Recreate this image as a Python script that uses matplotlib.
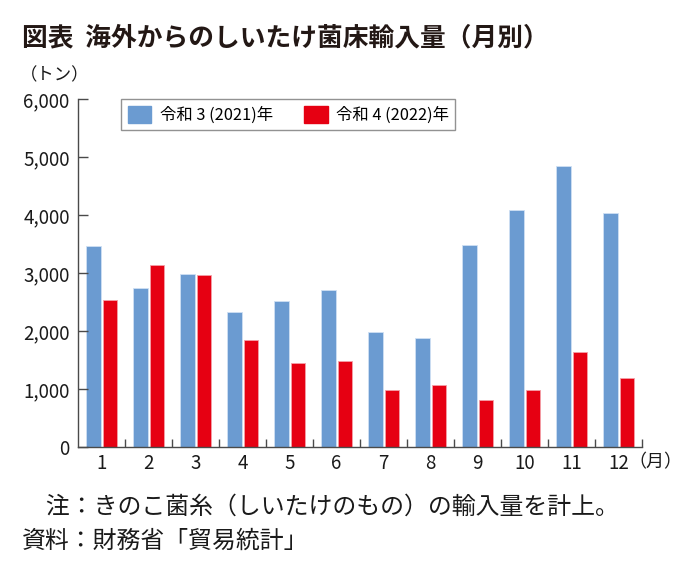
import matplotlib
matplotlib.use("Agg")
import matplotlib.pyplot as plt
from matplotlib.patches import Patch
import numpy as np

plt.rcParams['font.family'] = ['Noto Sans CJK JP', 'DejaVu Sans']

months = ["1", "2", "3", "4", "5", "6", "7", "8", "9", "10", "11", "12"]
r3_2021 = [3470, 2750, 2980, 2320, 2510, 2715, 1990, 1885, 3485, 4085, 4850, 4030]
r4_2022 = [2540, 3135, 2970, 1845, 1440, 1480, 980, 1065, 805, 980, 1630, 1195]
yticks = [0, 1000, 2000, 3000, 4000, 5000, 6000]
series_labels = ["令和 3 (2021)年", "令和 4 (2022)年"]

blue = "#6b9bd1"
red = "#e60012"
axc = "#4a4a4a"

W, H = 689, 579
fig = plt.figure(figsize=(W / 100, H / 100), dpi=100)
ax = fig.add_axes([78 / W, 1 - 447 / H, (642 - 78) / W, (447 - 99) / H])

x = np.arange(1, len(months) + 1)
bw = 0.31
ax.bar(x - 0.168, r3_2021, width=bw, color=blue, edgecolor="#cfe0f3", linewidth=0.6)
ax.bar(x + 0.178, r4_2022, width=bw, color=red, edgecolor="#f4a0a8", linewidth=0.6)

ax.set_xlim(0.5, 12.5)
ax.set_ylim(0, 6000)

for s in ["top", "right"]:
    ax.spines[s].set_visible(False)
for s in ["left", "bottom"]:
    ax.spines[s].set_color(axc)
    ax.spines[s].set_linewidth(1.0)

ax.set_yticks(yticks)
ax.set_yticklabels([f"{v:,}" for v in yticks], fontsize=13.5, color="#1a1a1a")
ax.tick_params(axis="y", direction="in", length=7, width=1.0, color=axc, pad=6)

ax.set_xticks(x)
ax.set_xticklabels(months, fontsize=13.5, color="#1a1a1a")
ax.tick_params(axis="x", which="major", length=0, pad=4)
ax.set_xticks(np.arange(1.5, 13.0, 1.0), minor=True)
ax.tick_params(axis="x", which="minor", direction="in", length=6, width=1.0, color=axc)

fig.text(22 / W, 1 - 38 / H, "図表  海外からのしいたけ菌床輸入量（月別）", fontsize=18.5,
         fontweight="bold", color="#231815", va="center", ha="left")
fig.text(20 / W, 1 - 75 / H, "（トン）", fontsize=12.5, color="#1a1a1a", va="center", ha="left")
fig.text(628 / W, 1 - 462 / H, "（月）", fontsize=13, color="#1a1a1a", va="center", ha="left")

fig.text(22 / W, 1 - 507 / H, "\u3000注：きのこ菌糸（しいたけのもの）の輸入量を計上。", fontsize=17.2,
         color="#1a1a1a", va="center", ha="left")
fig.text(22 / W, 1 - 541 / H, "資料：財務省「貿易統計」", fontsize=17.2,
         color="#1a1a1a", va="center", ha="left")

handles = [Patch(facecolor=blue, edgecolor=blue), Patch(facecolor=red, edgecolor=red)]
leg = fig.legend(handles, series_labels, loc="upper left",
                 bbox_to_anchor=(121 / W, 1 - 99 / H), bbox_transform=fig.transFigure,
                 ncol=2, fontsize=11.8, frameon=True, fancybox=False, borderaxespad=0,
                 handlelength=1.45, handleheight=1.25, handletextpad=0.5,
                 columnspacing=1.9, borderpad=0.4)
leg.get_frame().set_edgecolor("#777")
leg.get_frame().set_linewidth(1.0)

fig.savefig("out.png", dpi=100)
